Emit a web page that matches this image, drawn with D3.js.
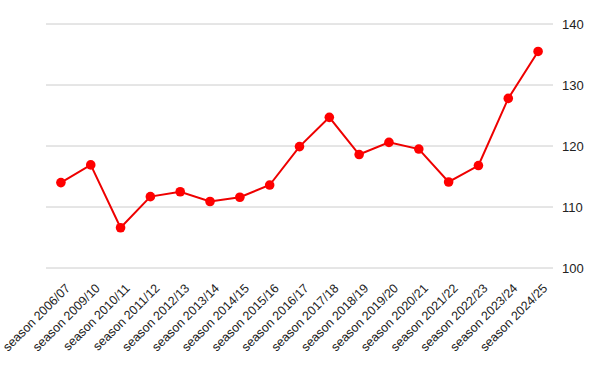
<!DOCTYPE html>
<html>
<head>
<meta charset="utf-8">
<script src="https://cdn.jsdelivr.net/npm/d3@7"></script>
<style>
  body { margin: 0; background: #fff; }
  text { font-family: "Liberation Sans", Arial, sans-serif; }
</style>
</head>
<body>
<div id="chart"></div>
<script>
var svgWidth = 600;
var svgHeight = 371;

var margin = { top: 24, right: 47, bottom: 103, left: 46 };
var width = svgWidth - margin.left - margin.right;
var height = svgHeight - margin.top - margin.bottom;

// data
var seasons = ["season 2006/07", "season 2009/10", "season 2010/11", "season 2011/12",
    "season 2012/13", "season 2013/14", "season 2014/15", "season 2015/16",
    "season 2016/17", "season 2017/18", "season 2018/19", "season 2019/20",
    "season 2020/21", "season 2021/22", "season 2022/23", "season 2023/24",
    "season 2024/25"];
var values = [114.0, 116.9, 106.6, 111.7, 112.5, 110.9, 111.6, 113.6,
    119.9, 124.7, 118.6, 120.6, 119.5, 114.1, 116.8, 127.8, 135.5];
var yTicks = [100, 110, 120, 130, 140];

var data = seasons.map(function(s, i) { return { season: s, value: values[i] }; });

var svg = d3.select("#chart")
    .append("svg")
    .attr("width", svgWidth)
    .attr("height", svgHeight);

var chartGroup = svg.append("g")
    .attr("transform", `translate(${margin.left}, ${margin.top})`);

var xScale = d3.scaleBand()
    .domain(seasons)
    .range([0, width]);

var yScale = d3.scaleLinear()
    .domain([100, 140])
    .range([height, 0]);

// gridlines
chartGroup.selectAll(".grid")
    .data(yTicks)
    .enter()
    .append("line")
    .attr("x1", 0)
    .attr("x2", width)
    .attr("y1", d => yScale(d))
    .attr("y2", d => yScale(d))
    .attr("stroke", "#cccccc")
    .attr("stroke-width", 1);

// right axis labels
var rightAxis = d3.axisRight(yScale).tickValues(yTicks).tickSize(0).tickPadding(9);
chartGroup.append("g")
    .attr("transform", `translate(${width}, 0)`)
    .call(rightAxis)
    .call(g => g.select(".domain").remove())
    .selectAll("text")
    .attr("font-size", "13px")
    .attr("fill", "#222");

// bottom labels
var bottomAxis = d3.axisBottom(xScale).tickSize(0).tickPadding(0);
chartGroup.append("g")
    .attr("transform", `translate(0, ${height})`)
    .call(bottomAxis)
    .call(g => g.select(".domain").remove())
    .selectAll("text")
    .attr("font-size", "12.5px")
    .attr("fill", "#222")
    .attr("text-anchor", "end")
    .attr("dy", 0)
    .attr("transform", "translate(10, 21) rotate(-45)");

var line = d3.line()
    .x(d => xScale(d.season) + xScale.bandwidth() / 2)
    .y(d => yScale(d.value));

chartGroup.append("path")
    .datum(data)
    .attr("d", line)
    .attr("fill", "none")
    .attr("stroke", "#ee0000")
    .attr("stroke-width", 2);

chartGroup.selectAll("circle")
    .data(data)
    .enter()
    .append("circle")
    .attr("cx", d => xScale(d.season) + xScale.bandwidth() / 2)
    .attr("cy", d => yScale(d.value))
    .attr("r", 4.8)
    .attr("fill", "#ff0000");
</script>
</body>
</html>
